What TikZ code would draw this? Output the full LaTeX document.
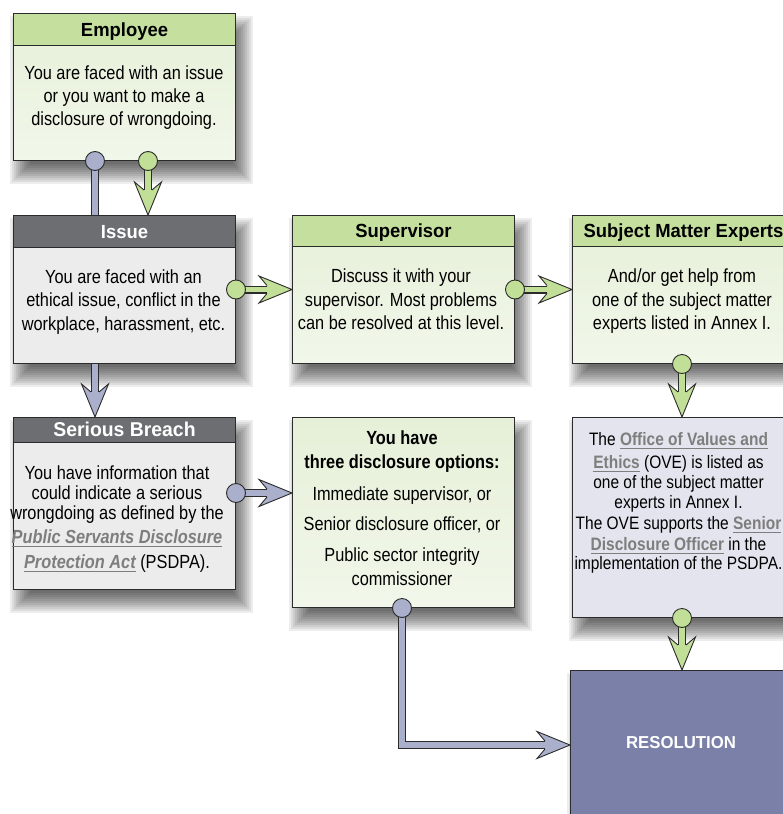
\documentclass[tikz,border=0pt]{standalone}
\usepackage{fontspec}
\setmainfont{Liberation Sans}[FakeStretch=0.86]
\newfontfamily\hdfont{Liberation Sans}[FakeStretch=0.97]
\usetikzlibrary{backgrounds,calc}
\definecolor{outl}{HTML}{2B2B2B}
\definecolor{hdgreen}{HTML}{C5DF9F}
\definecolor{bodygreenA}{HTML}{E6F0D8}
\definecolor{bodygreenB}{HTML}{F1F7EA}
\definecolor{hdgray}{HTML}{6D6E71}
\definecolor{bodygray}{HTML}{ECECEC}
\definecolor{ovebody}{HTML}{E4E4EE}
\definecolor{resfill}{HTML}{7A80A7}
\definecolor{connblue}{HTML}{AAB0CC}
\definecolor{conngreen}{HTML}{C2DF98}
\definecolor{linkgray}{HTML}{7E7E7E}
\newcommand\lnk[1]{{\bfseries\color{linkgray}\setbox0\hbox{#1}\rlap{\rule[-3.4pt]{\wd0}{0.9pt}}\box0}}
\newcommand\ahead[3]{%
  \begin{scope}[shift={(#3)}, rotate=#1]
    \fill[#2] (0,0) -- (-33,-13.5) -- (-25,-4) -- (-25,4) -- (-33,13.5) -- cycle;
    \draw[outl, line width=0.9pt, line join=miter] (-25,-4) -- (-33,-13.5) -- (0,0) -- (-33,13.5) -- (-25,4);
  \end{scope}}
\newcommand\sshadow[1]{%
  \foreach \r in {-10,-8,...,10} {\fill[black, opacity=0.07] ([shift={(7-\r,13-\r)}]#1.north west) rectangle ([shift={(7+\r,13+\r)}]#1.south east);}}
\begin{document}
\begin{tikzpicture}[x=1pt, y=-1pt,
  box/.style={draw=outl, line width=1pt, anchor=north west, inner sep=0pt, minimum width=222pt},
  hdr/.style={draw=outl, line width=1pt, anchor=north west, inner sep=0pt, minimum width=222pt,
    text height=13.6pt, text depth=0pt, font=\hdfont\bfseries\fontsize{19}{19}\selectfont},
  txt/.style={anchor=north, align=center, inner sep=0pt},
  stemo/.style={draw=outl, line width=8pt},
  stemi/.style={draw=#1, line width=5.8pt},
  pin/.style={fill=#1, draw=outl, line width=0.9pt}]
\path[use as bounding box] (0,0) rectangle (783,814);
\clip (0,0) rectangle (783,814);

% boxes
\node[box, top color=bodygreenA, bottom color=bodygreenB, minimum height=147pt] (emp) at (13,13) {};
\node[hdr, fill=hdgreen, minimum height=32pt] (empH) at (emp.north west) {Employee};
\node[txt, font=\fontsize{19}{23}\selectfont] (empT) at (124,66)
  {You are faced with an issue\\or you want to make a\\disclosure of wrongdoing.};

\node[box, fill=bodygray, minimum height=148pt] (iss) at (13,215) {};
\node[hdr, fill=hdgray, text=white, minimum height=32pt] (issH) at (iss.north west) {Issue};
\node[txt, font=\fontsize{19}{23.5}\selectfont] (issT) at (123.5,269.3)
  {You are faced with an\\ethical issue, conflict in the\\workplace, harassment, etc.};

\node[box, top color=bodygreenA, bottom color=bodygreenB, minimum height=148pt] (sup) at (292,215) {};
\node[hdr, fill=hdgreen, minimum height=31pt] (supH) at (sup.north west) {Supervisor};
\node[txt, font=\fontsize{19}{23.5}\selectfont] (supT) at (401,269)
  {Discuss it with your\\supervisor. Most problems\\can be resolved at this level.};

\node[box, top color=bodygreenA, bottom color=bodygreenB, minimum height=148pt] (sme) at (572,215) {};
\node[hdr, fill=hdgreen, minimum height=31pt] (smeH) at (sme.north west) {Subject Matter Experts};
\node[txt, font=\fontsize{19}{23.5}\selectfont] (smeT) at (682,269)
  {And/or get help from\\one of the subject matter\\experts listed in Annex I.};

\node[box, fill=bodygray, minimum height=172pt] (ser) at (13,417) {};
\node[hdr, fill=hdgray, text=white, minimum height=25pt, font=\hdfont\bfseries\fontsize{20}{20}\selectfont] (serH) at (ser.north west) {Serious Breach};
\node[txt, font=\fontsize{19}{20}\selectfont] (serT) at (117,465.3)
  {You have information that\\could indicate a serious\\wrongdoing as defined by the\\[4.7pt]\lnk{\itshape Public Servants Disclosure}\\[5pt]\lnk{\itshape Protection Act} (PSDPA).};

\node[box, top color=bodygreenA, bottom color=bodygreenB, minimum height=190pt] (dis) at (292,417) {};
\node[txt, font=\fontsize{19}{24}\selectfont] (disT) at (402,431)
  {{\bfseries You have}\\{\bfseries three disclosure options:}\\[7.4pt]Immediate supervisor, or\\[6pt]Senior disclosure officer, or\\[7pt]Public sector integrity\\commissioner};

\node[box, fill=ovebody, minimum height=200pt] (ove) at (572,417) {};
\node[txt, font=\fontsize{18}{20}\selectfont] (oveT) at (678.5,432)
  {The \lnk{Office of Values and}\\[3.6pt]\lnk{Ethics} (OVE) is listed as\\one of the subject matter\\[-0.5pt]experts in Annex I.\\[1pt]The OVE supports the \lnk{Senior}\\[1pt]\lnk{Disclosure Officer} in the\\[-0.7pt]implementation of the PSDPA.};

\node[box, fill=resfill, minimum height=170pt] (res) at (570,670) {};
\node[anchor=base, inner sep=0pt, text=white, font=\hdfont\bfseries\fontsize{17.3}{17.3}\selectfont] (resT) at (681,748) {RESOLUTION};

% shadows
\begin{scope}[on background layer]
  \fill[white] (0,0) rectangle (783,814);
  \sshadow{emp} \sshadow{iss} \sshadow{sup} \sshadow{sme}
  \sshadow{ser} \sshadow{dis} \sshadow{ove} \sshadow{res}
\end{scope}

% connector end points
\coordinate (c1s) at (95,0 |- emp.south);  \coordinate (c1e) at (95,0 |- iss.north);
\coordinate (c2s) at (148,0 |- emp.south); \coordinate (c2e) at (148,0 |- iss.north);
\coordinate (c3s) at (iss.east); \coordinate (c3e) at (sup.west);
\coordinate (c4s) at (sup.east); \coordinate (c4e) at (sme.west);
\coordinate (c5s) at (682,0 |- sme.south); \coordinate (c5e) at (682,0 |- ove.north);
\coordinate (c6s) at (95,0 |- iss.south);  \coordinate (c6e) at (95,0 |- ser.north);
\coordinate (c7s) at (ser.east |- 0,493);  \coordinate (c7e) at (dis.west |- 0,493);
\coordinate (c8s) at (402,0 |- dis.south); \coordinate (c8e) at (res.west |- 0,745);
\coordinate (c9s) at (682,0 |- ove.south); \coordinate (c9e) at (682,0 |- res.north);

% blue: employee -> issue (no head)
\draw[stemo] (c1s) -- (c1e); \draw[stemi=connblue] (c1s) -- (c1e);
\draw[pin=connblue] (c1s) circle (9.5pt);
% green: employee -> issue
\draw[stemo, shorten >=24pt] (c2s) -- (c2e); \draw[stemi=conngreen, shorten >=24pt] (c2s) -- (c2e);
\ahead{-90}{conngreen}{c2e}
\draw[pin=conngreen] (c2s) circle (9.5pt);
% green: issue -> supervisor
\draw[stemo, shorten >=24pt] (c3s) -- (c3e); \draw[stemi=conngreen, shorten >=24pt] (c3s) -- (c3e);
\ahead{0}{conngreen}{c3e}
\draw[pin=conngreen] (c3s) circle (9.5pt);
% green: supervisor -> sme
\draw[stemo, shorten >=24pt] (c4s) -- (c4e); \draw[stemi=conngreen, shorten >=24pt] (c4s) -- (c4e);
\ahead{0}{conngreen}{c4e}
\draw[pin=conngreen] (c4s) circle (9.5pt);
% green: sme -> ove
\draw[stemo, shorten >=24pt] (c5s) -- (c5e); \draw[stemi=conngreen, shorten >=24pt] (c5s) -- (c5e);
\ahead{-90}{conngreen}{c5e}
\draw[pin=conngreen] (c5s) circle (9.5pt);
% blue: issue -> serious breach
\draw[stemo, shorten >=24pt] (c6s) -- (c6e); \draw[stemi=connblue, shorten >=24pt] (c6s) -- (c6e);
\ahead{-90}{connblue}{c6e}
% blue: serious breach -> disclosure
\draw[stemo, shorten >=24pt] (c7s) -- (c7e); \draw[stemi=connblue, shorten >=24pt] (c7s) -- (c7e);
\ahead{0}{connblue}{c7e}
\draw[pin=connblue] (c7s) circle (9.5pt);
% blue: disclosure -> resolution
\draw[stemo, shorten >=24pt, line join=miter] (c8s) |- (c8e); \draw[stemi=connblue, shorten >=24pt, line join=miter] (c8s) |- (c8e);
\ahead{0}{connblue}{c8e}
\draw[pin=connblue] (c8s) circle (9.5pt);
% green: ove -> resolution
\draw[stemo, shorten >=24pt] (c9s) -- (c9e); \draw[stemi=conngreen, shorten >=24pt] (c9s) -- (c9e);
\ahead{-90}{conngreen}{c9e}
\draw[pin=conngreen] (c9s) circle (9.5pt);
\end{tikzpicture}
\end{document}
